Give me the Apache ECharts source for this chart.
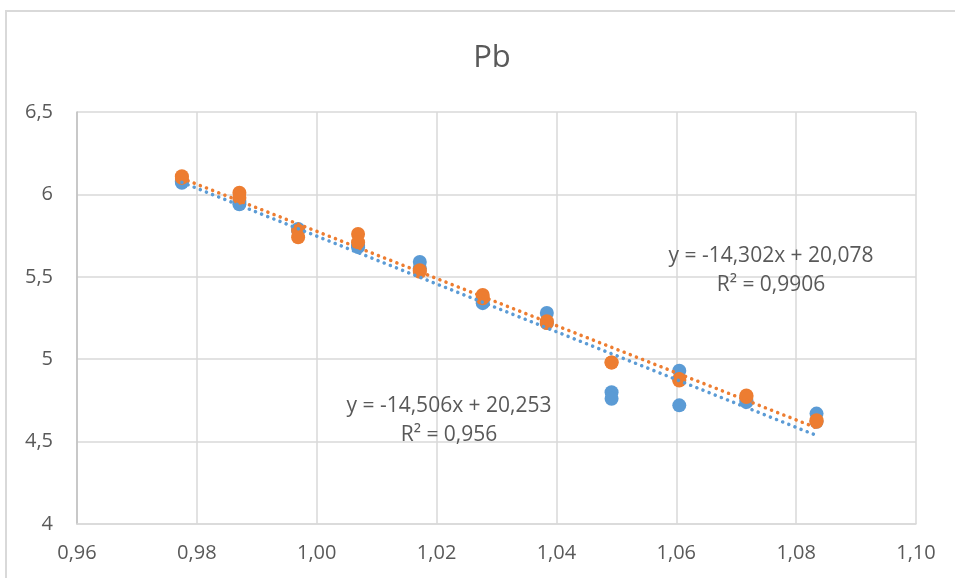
<!DOCTYPE html>
<html>
<head>
<meta charset="utf-8">
<script src="https://cdn.jsdelivr.net/npm/echarts@6/dist/echarts.min.js"></script>
<style>
html,body{margin:0;padding:0;background:#fff;}
#c{width:955px;height:578px;}
</style>
</head>
<body>
<div id="c"></div>
<script>
// ---- data ----
const xValues = [0.9775, 0.9871, 0.9969, 1.0069, 1.0172, 1.0277, 1.0384, 1.0492, 1.0605, 1.0717, 1.0834];
const blueA   = [6.07, 5.94, 5.79, 5.69, 5.59, 5.34, 5.28, 4.80, 4.93, 4.75, 4.67];
const blueB   = [6.08, 5.96, 5.78, 5.68, 5.55, 5.36, 5.22, 4.76, 4.72, 4.74, 4.62];
const orangeA = [6.11, 6.01, 5.78, 5.76, 5.54, 5.39, 5.23, 4.98, 4.88, 4.78, 4.63];
const orangeB = [6.10, 5.98, 5.74, 5.71, 5.53, 5.37, 5.22, 4.98, 4.87, 4.77, 4.62];
const blueFit   = {slope: -14.506, intercept: 20.253, label: "y = -14,506x + 20,253", r2: "R² = 0,956"};
const orangeFit = {slope: -14.302, intercept: 20.078, label: "y = -14,302x + 20,078", r2: "R² = 0,9906"};
const xTicks = ["0,96","0,98","1,00","1,02","1,04","1,06","1,08","1,10"];
const yTicks = ["4","4,5","5","5,5","6","6,5"];
const title = "Pb";

const BLUE = "#5B9BD5", ORANGE = "#ED7D31", TXT = "#595959", GRID = "#D9D9D9";
const FONT = "'Open Sans', 'Noto Sans', sans-serif";

function pts(ys){ return xValues.map((x,i)=>[x, ys[i]]); }
function fitLine(f){
  const x0 = Math.min(...xValues), x1 = Math.max(...xValues);
  return [[x0, f.slope*x0 + f.intercept], [x1, f.slope*x1 + f.intercept]];
}
function fmtX(v){ const i = Math.round((v-0.96)/0.02); return xTicks[i] !== undefined ? xTicks[i] : ""; }
function fmtY(v){ const i = Math.round((v-4)/0.5); return yTicks[i] !== undefined ? yTicks[i] : ""; }

const chart = echarts.init(document.getElementById('c'), null, {renderer:'canvas'});
const scatterBase = {type:'scatter', symbol:'circle', symbolSize:14, z:2, silent:true};
const lineBase = {type:'line', showSymbol:false, symbol:'none', z:3, silent:true};

chart.setOption({
  animation:false,
  backgroundColor:'#fff',
  title:{text:title, left:487, top:38, textAlign:'center',
    textStyle:{fontFamily:FONT, fontSize:31, fontWeight:'normal', color:TXT}},
  grid:{left:77, right:39, top:112, bottom:54, containLabel:false},
  xAxis:{type:'value', min:0.96, max:1.10, interval:0.02,
    axisLine:{show:true, lineStyle:{color:GRID, width:1.5}},
    axisTick:{show:false},
    splitLine:{show:true, lineStyle:{color:GRID, width:1.5}},
    axisLabel:{formatter:fmtX, margin:19, fontFamily:FONT, fontSize:20, color:TXT}},
  yAxis:{type:'value', min:4, max:6.5, interval:0.5,
    axisLine:{show:true, lineStyle:{color:'#BFBFBF', width:1.5}},
    axisTick:{show:false},
    splitLine:{show:true, lineStyle:{color:GRID, width:1.5}},
    axisLabel:{formatter:fmtY, margin:24, fontFamily:FONT, fontSize:20, color:TXT}},
  graphic:[
    {type:'rect', shape:{x:6, y:11, width:1200, height:800}, style:{fill:'none', stroke:GRID, lineWidth:2}, z:-1, silent:true},
    {type:'text', x:771, y:256, style:{text:orangeFit.label, fontFamily:FONT, fontSize:21, fill:TXT, textAlign:'center', textVerticalAlign:'middle'}, z:10},
    {type:'text', x:771, y:285, style:{text:orangeFit.r2, fontFamily:FONT, fontSize:21, fill:TXT, textAlign:'center', textVerticalAlign:'middle'}, z:10},
    {type:'text', x:449, y:406, style:{text:blueFit.label, fontFamily:FONT, fontSize:21, fill:TXT, textAlign:'center', textVerticalAlign:'middle'}, z:10},
    {type:'text', x:449, y:435, style:{text:blueFit.r2, fontFamily:FONT, fontSize:21, fill:TXT, textAlign:'center', textVerticalAlign:'middle'}, z:10}
  ],
  series:[
    Object.assign({}, scatterBase, {name:'blueA', data:pts(blueA), itemStyle:{color:BLUE, opacity:1}}),
    Object.assign({}, scatterBase, {name:'blueB', data:pts(blueB), itemStyle:{color:BLUE, opacity:1}}),
    Object.assign({}, scatterBase, {name:'orangeA', data:pts(orangeA), itemStyle:{color:ORANGE, opacity:1}}),
    Object.assign({}, scatterBase, {name:'orangeB', data:pts(orangeB), itemStyle:{color:ORANGE, opacity:1}}),
    Object.assign({}, lineBase, {name:'blueTrend', data:fitLine(blueFit),
      lineStyle:{color:BLUE, width:3.5, type:[0.1,6.5], cap:'round'}}),
    Object.assign({}, lineBase, {name:'orangeTrend', data:fitLine(orangeFit),
      lineStyle:{color:ORANGE, width:3.5, type:[0.1,6.5], cap:'round'}})
  ]
});
</script>
</body>
</html>
